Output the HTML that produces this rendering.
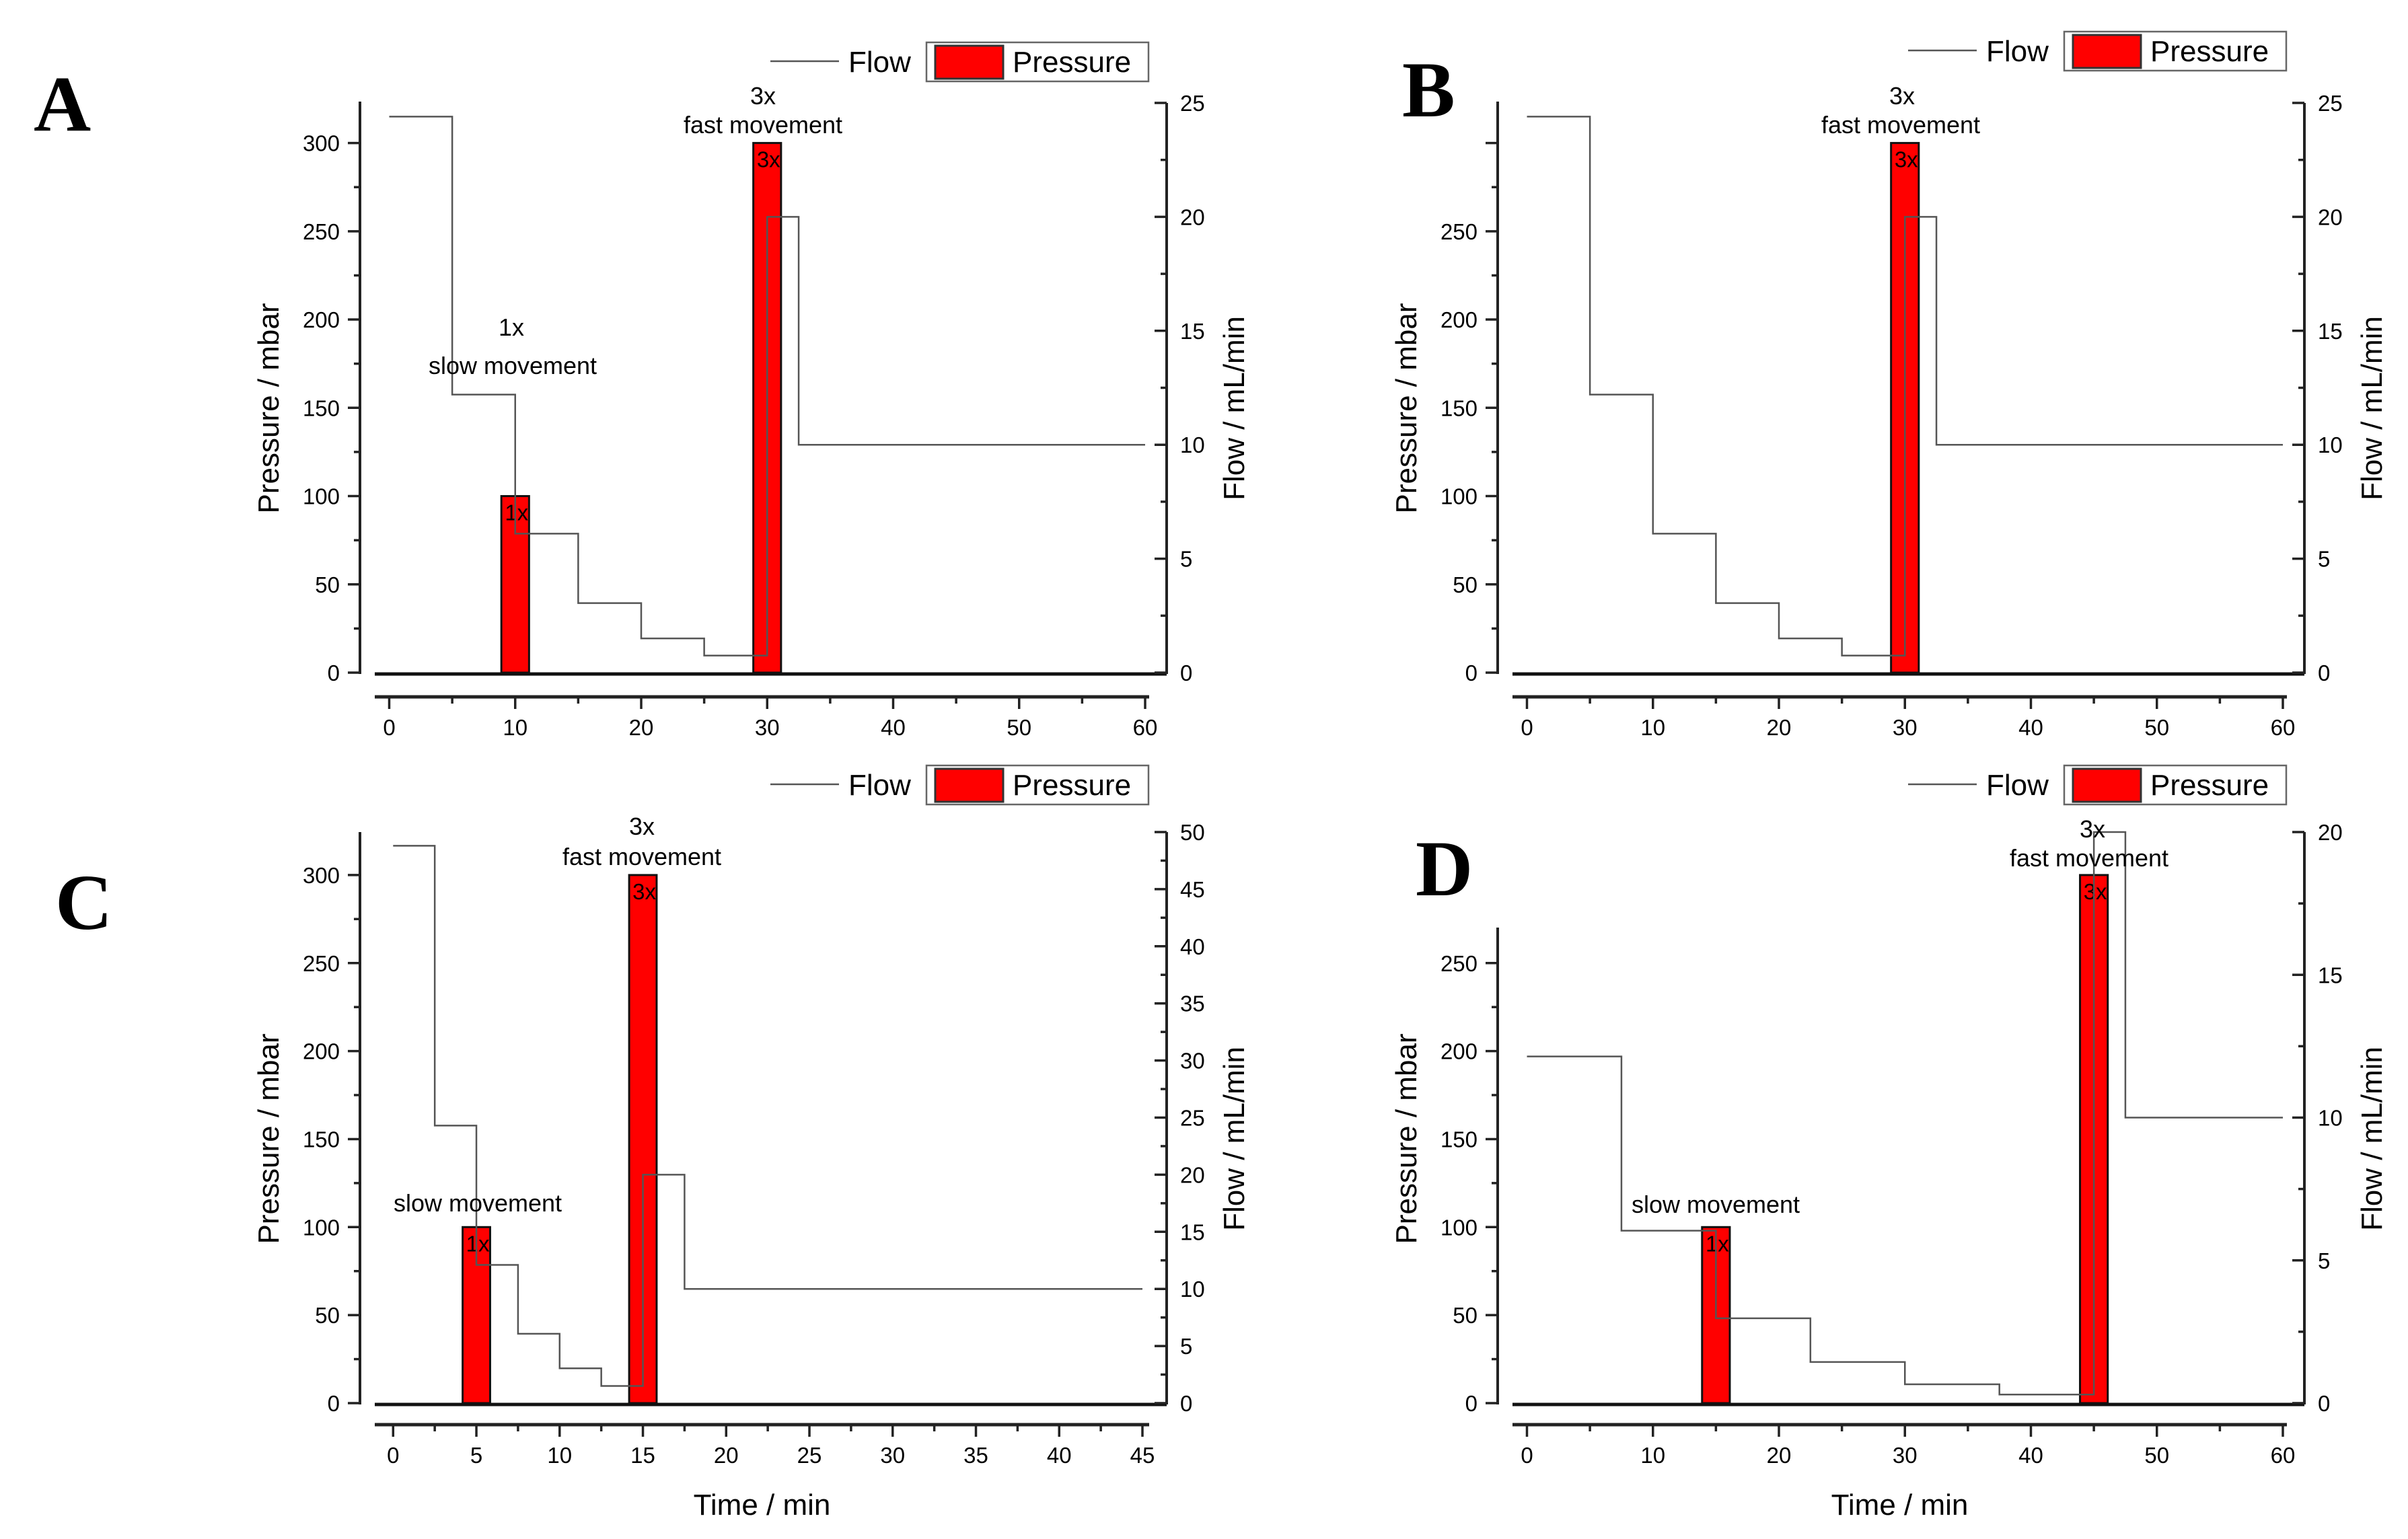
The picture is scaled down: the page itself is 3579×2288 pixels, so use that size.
<!DOCTYPE html>
<html><head><meta charset="utf-8">
<style>
html,body{margin:0;padding:0;background:#fff;}
svg{display:block;}
text{font-family:"Liberation Sans",sans-serif;fill:#000;}
.lt{font-family:"Liberation Serif",serif;font-weight:bold;}
</style></head>
<body>
<svg id="fig" width="3579" height="2288" viewBox="0 0 3579 2288" xmlns="http://www.w3.org/2000/svg">
<rect x="0" y="0" width="3579" height="2288" fill="#fff"/>
</svg>
<script>
// ---- data ----
const barTimesA=[10,30]; const barValuesA=[100,300]; const barLabelsA=['1x','3x'];
const flowTimesA=[0,5,10,15,20,25,30,32.5,60]; const flowValuesA=[24.4,12.2,6.1,3.05,1.5,0.75,20,10];
const barTimesB=[30]; const barValuesB=[300]; const barLabelsB=['3x'];
const flowTimesB=[0,5,10,15,20,25,30,32.5,60]; const flowValuesB=[24.4,12.2,6.1,3.05,1.5,0.75,20,10];
const barTimesC=[5,15]; const barValuesC=[100,300]; const barLabelsC=['1x','3x'];
const flowTimesC=[0,2.5,5,7.5,10,12.5,15,17.5,45]; const flowValuesC=[48.8,24.3,12.1,6.07,3.05,1.5,20,10];
const barTimesD=[15,45]; const barValuesD=[100,300]; const barLabelsD=['1x','3x'];
const flowTimesD=[0,7.5,15,22.5,30,37.5,45,47.5,60]; const flowValuesD=[12.14,6.04,2.97,1.44,0.66,0.3,20,10];
const xTicks60=[0,10,20,30,40,50,60]; const xTicks45=[0,5,10,15,20,25,30,35,40,45];
const leftTicksA=[0,50,100,150,200,250,300]; const leftTicksB=[0,50,100,150,200,250];
const rightTicks25=[0,5,10,15,20,25]; const rightTicks50=[0,5,10,15,20,25,30,35,40,45,50]; const rightTicks20=[0,5,10,15,20];

const NS='http://www.w3.org/2000/svg';
const svg=document.getElementById('fig');
function mk(tag,attrs,parent){const e=document.createElementNS(NS,tag);for(const k in attrs)e.setAttribute(k,attrs[k]);(parent||svg).appendChild(e);return e;}
function tx(str,x,y,size,anchor,parent,extra){const e=mk('text',Object.assign({x:x,y:y,'font-size':size,'text-anchor':anchor||'start'},extra||{}),parent);e.textContent=str;return e;}

function panel(P){
  const g=mk('g',{});
  
  
  const X=t=>P.x0+(t/P.xmax)*(P.x1-P.x0);
  const YP=v=>P.yZero-v*P.pPer;
  const YF=v=>P.yZero-v*P.fPer;
  // bars
  P.barT.forEach((t,i)=>{
    const y=YP(P.barV[i]);
    const r=mk('rect',{x:X(t-P.barW/2),y:y,width:X(t+P.barW/2)-X(t-P.barW/2),height:P.yZero-y,fill:'#ff0000',stroke:'#111','stroke-width':3},g);
    
    
    const l=tx(P.barL[i],X(t)+2,y+36,33,'middle',g);
    
    
  });
  // flow step line
  let d='';
  P.flowV.forEach((v,i)=>{const y=YF(v);d+=(i===0?'M':'L')+X(P.flowT[i])+','+y+'L'+X(P.flowT[i+1])+','+y;});
  const fl=mk('path',{d:d,fill:'none',stroke:'#555','stroke-width':2.5},g);
  
  
  // zero baseline
  const zl=mk('line',{x1:P.axL,x2:P.rightX,y1:P.yZero+2,y2:P.yZero+2,stroke:'#111','stroke-width':5},g);
  
  
  // left axis
  const la=mk('path',{d:'M'+P.leftX+','+P.leftTop+'L'+P.leftX+','+(P.yZero+2),stroke:'#222','stroke-width':4,fill:'none'},g);
  
  
  for(let v=0;YP(v)>=P.leftTop-1;v+=25){
    const maj=v%50===0;
    mk('line',{x1:P.leftX,x2:P.leftX-(maj?18:9),y1:YP(v),y2:YP(v),stroke:'#222','stroke-width':3.5},g);
  }
  P.leftTicks.forEach(v=>{const t=tx(String(v),P.leftX-30,YP(v)+12,33,'end',g);
    
    });
  // right axis
  const ra=mk('path',{d:'M'+P.rightX+','+P.rightTop+'L'+P.rightX+','+(P.yZero+2),stroke:'#222','stroke-width':4,fill:'none'},g);
  
  
  for(let v=0;v<=P.fMax+0.01;v+=2.5){
    const maj=v%5===0;
    mk('line',{x1:P.rightX,x2:P.rightX-(maj?18:9),y1:YF(v),y2:YF(v),stroke:'#222','stroke-width':3.5},g);
  }
  P.rightTicks.forEach(v=>{const t=tx(String(v),P.rightX+20,YF(v)+12,33,'start',g);
    
    });
  // bottom axis
  const ba=mk('line',{x1:P.axL,x2:P.axR,y1:P.bottomY,y2:P.bottomY,stroke:'#222','stroke-width':5},g);
  
  
  for(let t=0;t<=P.xmax+0.01;t+=P.minor){
    const maj=Math.abs(t/P.major-Math.round(t/P.major))<1e-6;
    mk('line',{x1:X(t),x2:X(t),y1:P.bottomY,y2:P.bottomY+(maj?18:10),stroke:'#222','stroke-width':3.5},g);
  }
  P.xTicks.forEach(t=>{const e=tx(String(t),X(t),P.bottomY+57,33,'middle',g);
    
    });
  // titles
  const lt=tx('Pressure / mbar',0,0,44,'middle',g,{transform:'translate('+(P.leftX-121)+','+(P.titleY)+') rotate(-90)'});
  
  
  const rt=tx('Flow / mL/min',0,0,44,'middle',g,{transform:'translate('+(P.rightX+115)+','+(P.titleY)+') rotate(-90)'});
  
  
  if(P.timeTitle){const tt=tx('Time / min',(P.axL+P.axR)/2,P.bottomY+134,44,'middle',g);
    
    }
  // annotations
  P.ann.forEach(a=>{const e=tx(a[0],a[1],a[2],36,'middle',g);
    
    });
  // legend
  const lg=mk('g',{transform:'translate('+P.lgx+','+P.lgy+')'},g);
  
  
  const ll=mk('line',{x1:1145,x2:1247,y1:91,y2:91,stroke:'#555','stroke-width':2.5},lg);
  
  
  const lf=tx('Flow',1261,107,44,'start',lg);
  
  
  const lb=mk('rect',{x:1377,y:63,width:330,height:58,fill:'#fff',stroke:'#666','stroke-width':2.5},lg);
  
  
  const ls=mk('rect',{x:1390,y:68,width:101,height:49,fill:'#ff0000',stroke:'#333','stroke-width':3},lg);
  
  
  const lp=tx('Pressure',1505,107,44,'start',lg);
  
  
  // panel letter
  if(P.bgLetter){mk('rect',{x:P.letter[1]-30,y:P.letter[2]-110,width:140,height:140,fill:'#fff'},g);}
  const L=tx(P.id,P.letter[1],P.letter[2],118,'start',g,{class:'lt'});
  
  
}

panel({id:'A',x0:578.5,x1:1702,xmax:60,major:10,minor:5,yZero:1000,pPer:2.6247,fPer:(1000-153)/25,fMax:25,
  leftX:535,rightX:1734,leftTop:151,rightTop:153,bottomY:1036,axL:557,axR:1708,barW:2.2,titleY:607,
  barT:barTimesA,barV:barValuesA,barL:barLabelsA,flowT:flowTimesA,flowV:flowValuesA,
  leftTicks:leftTicksA,rightTicks:rightTicks25,xTicks:xTicks60,
  ann:[['1x',760,499],['slow movement',762,556],['3x',1134,155],['fast movement',1134,198]],
  lgx:0,lgy:0,letter:['A',50,194]});
panel({id:'B',x0:2269.5,x1:3393,xmax:60,major:10,minor:5,yZero:1000,pPer:2.6247,fPer:(1000-153)/25,fMax:25,
  leftX:2226,rightX:3425,leftTop:151,rightTop:153,bottomY:1036,axL:2248,axR:3399,barW:2.2,titleY:607,
  barT:barTimesB,barV:barValuesB,barL:barLabelsB,flowT:flowTimesB,flowV:flowValuesB,
  leftTicks:leftTicksB,rightTicks:rightTicks25,xTicks:xTicks60,
  ann:[['3x',2827,155],['fast movement',2825,198]],
  lgx:1691,lgy:-16,letter:['B',2084,173]});
panel({id:'C',x0:584.3,x1:1698,xmax:45,major:5,minor:2.5,yZero:2086,pPer:2.617,fPer:(2086-1237)/50,fMax:50,
  leftX:535,rightX:1734,leftTop:1237,rightTop:1237,bottomY:2118,axL:557,axR:1708,barW:1.65,titleY:1693,timeTitle:true,
  barT:barTimesC,barV:barValuesC,barL:barLabelsC,flowT:flowTimesC,flowV:flowValuesC,
  leftTicks:leftTicksA,rightTicks:rightTicks50,xTicks:xTicks45,
  ann:[['3x',954,1241],['fast movement',954,1286],['slow movement',710,1801]],
  lgx:0,lgy:1075,letter:['C',82,1381]});
panel({id:'D',x0:2269.5,x1:3393,xmax:60,major:10,minor:5,yZero:2086,pPer:2.617,fPer:(2086-1237)/20,fMax:20,
  leftX:2226,rightX:3425,leftTop:1379,rightTop:1237,bottomY:2118,axL:2248,axR:3399,barW:2.2,titleY:1693,timeTitle:true,
  barT:barTimesD,barV:barValuesD,barL:barLabelsD,flowT:flowTimesD,flowV:flowValuesD,
  leftTicks:leftTicksB,rightTicks:rightTicks20,xTicks:xTicks60,
  ann:[['3x',3110,1245],['fast movement',3105,1288],['slow movement',2550,1803]],
  lgx:1691,lgy:1075,letter:['D',2104,1331],bgLetter:true});
</script>
</body></html>
